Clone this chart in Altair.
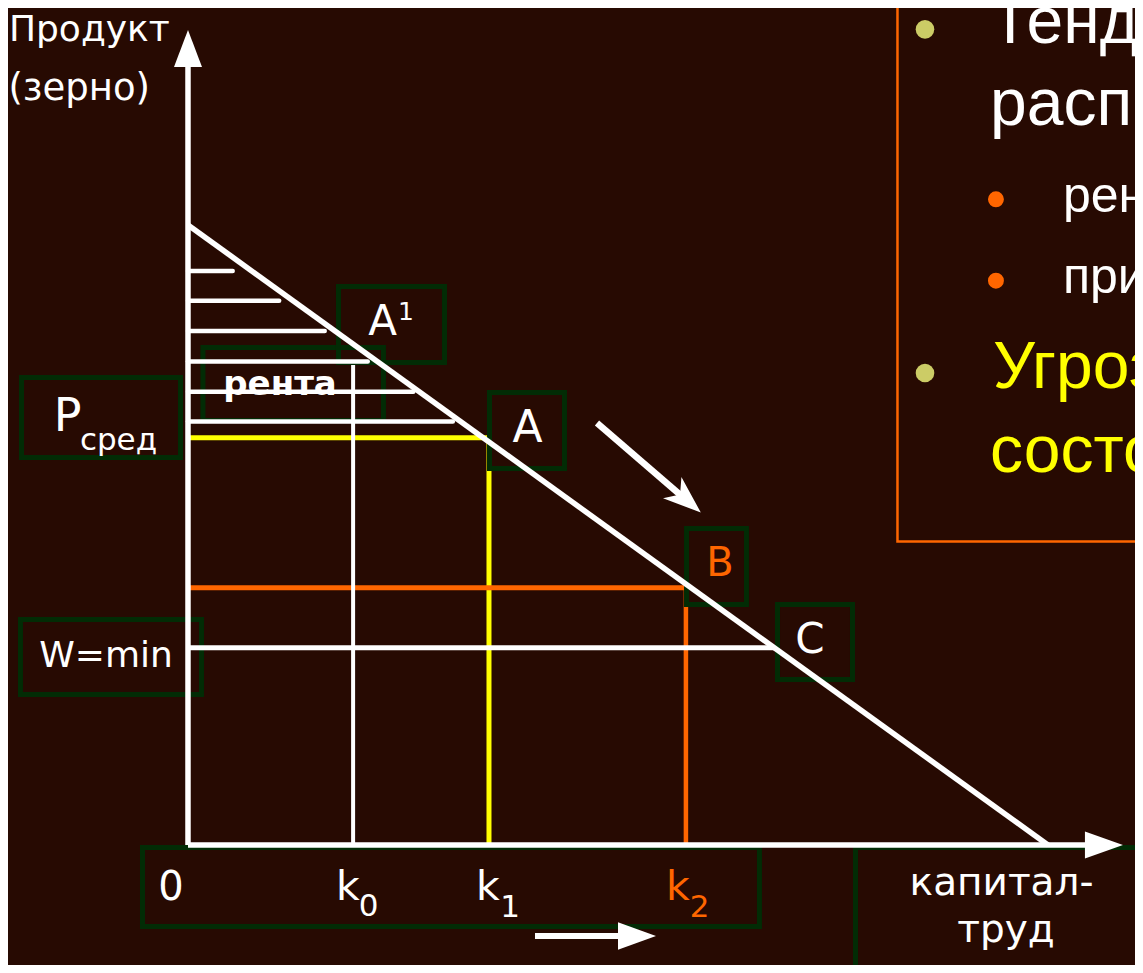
import altair as alt
import pandas as pd

# ---------------- colours ----------------
BG = "#270a02"
GREEN = "#022c05"
ORANGE = "#ff6600"
YELLOW = "#ffff00"
WHITE = "#ffffff"
OLIVE = "#cccc66"

# ---------------- model values (diagram units) ----------------
# product line: from (0, 10) down to (10, 0)
prod_x = [0.0, 10.0]
prod_y = [10.0, 0.0]

k0, k1, k2, kC = 1.92, 3.50, 5.79, 6.83
p_avg, p_b, w_min = 6.57, 4.15, 3.18
k0_top = 7.74
yellow_end = 3.48
orange_end = 5.77

# shaded "rent" area: hatch levels and their right ends
hatch_y = [9.26, 8.78, 8.29, 7.80, 7.31, 6.83]
hatch_x_end = [0.52, 1.06, 1.59, 2.09, 2.62, 3.08]

# axes
y_axis_top = 12.60
x_axis_right = 10.50

# view domain
W, H = 1127, 957
X_DOM = [-2.093, 11.012]
Y_DOM = [-1.9355, 13.5]

xs = alt.Scale(domain=X_DOM, nice=False, zero=False)
ys = alt.Scale(domain=Y_DOM, nice=False, zero=False)
X = alt.X("x:Q", scale=xs, axis=None)
Y = alt.Y("y:Q", scale=ys, axis=None)
X2 = alt.X2("x2:Q")
Y2 = alt.Y2("y2:Q")


def rules(df, cap="butt"):
    return alt.Chart(pd.DataFrame(df)).mark_rule(clip=True, strokeCap=cap).encode(
        x=X, y=Y, x2=X2, y2=Y2,
        color=alt.Color("c:N", scale=None),
        strokeWidth=alt.StrokeWidth("w:Q", scale=None),
    )


def boxes(df, fill, stroke, sw):
    m = alt.Chart(pd.DataFrame(df)).mark_rect(
        clip=True, stroke=stroke, strokeWidth=sw,
        fill=fill if fill else BG, fillOpacity=1 if fill else 0,
    )
    return m.encode(x=X, y=Y, x2=X2, y2=Y2)


# ---------------- boxes ----------------
back_box_x = [-1.936, -1.948, -0.529, 7.762, 0.174, 1.750]
back_box_x2 = [-0.087, 0.157, 6.645, 11.42, 2.273, 2.983]
back_box_y = [7.540, 3.637, -0.040, -0.040, 8.024, 9.008]
back_box_y2 = [6.250, 2.427, -1.315, -1.976, 6.847, 7.782]

front_box_x = [3.506, 5.797, 6.855]
front_box_x2 = [4.378, 6.494, 7.727]
front_box_y = [7.298, 5.105, 3.879]
front_box_y2 = [6.073, 3.879, 2.669]

panel_x, panel_x2 = [8.250], [11.42]
panel_y, panel_y2 = [13.79], [4.895]

back_boxes = boxes(dict(x=back_box_x, x2=back_box_x2, y=back_box_y, y2=back_box_y2), None, GREEN, 5)
front_boxes = boxes(dict(x=front_box_x, x2=front_box_x2, y=front_box_y, y2=front_box_y2), BG, GREEN, 5)
panel = boxes(dict(x=panel_x, x2=panel_x2, y=panel_y, y2=panel_y2), None, ORANGE, 2.5)

# ---------------- guide lines ----------------
guides = rules(dict(
    x=[0, k1, 0, k2, 0, k0],
    x2=[yellow_end, k1, orange_end, k2, kC, k0],
    y=[p_avg, p_avg, p_b, p_b, w_min, k0_top],
    y2=[p_avg, 0, p_b, 0, w_min, 0],
    c=[YELLOW, YELLOW, ORANGE, ORANGE, WHITE, WHITE],
    w=[5, 5, 5, 4.5, 5, 4],
))

hatch = rules(dict(
    x=[0] * len(hatch_y), x2=hatch_x_end, y=hatch_y, y2=hatch_y,
    c=[WHITE] * len(hatch_y), w=[4.5] * len(hatch_y),
), cap="round")

# axes, product line and arrow shafts
arrow_mid = dict(x=4.756, y=6.806, x2=5.767, y2=5.597)
arrow_bot = dict(x=4.035, y=-1.468, x2=5.023, y2=-1.468)
main_lines = rules(dict(
    x=[0, 0, prod_x[0], arrow_mid["x"], arrow_bot["x"]],
    x2=[0, x_axis_right, prod_x[1], arrow_mid["x2"], arrow_bot["x2"]],
    y=[0, 0, prod_y[0], arrow_mid["y"], arrow_bot["y"]],
    y2=[y_axis_top, 0, prod_y[1], arrow_mid["y2"], arrow_bot["y2"]],
    c=[WHITE] * 5,
    w=[5.5, 5.5, 5.5, 6.5, 6],
))


def head(x, y, shape, size, angle=0):
    return alt.Chart(pd.DataFrame(dict(x=[x], y=[y]))).mark_point(
        clip=True, filled=True, color=WHITE, opacity=1, strokeWidth=0,
        shape=shape, size=size, angle=angle,
    ).encode(x=X, y=Y)


heads = [
    head(0, 12.847, "M0,-1L0.757,1L-0.757,1Z", 1369),
    head(10.651, 0, "M1,0L-1,-0.71L-1,0.71Z", 1444),
    head(5.797, 5.563, "M1,0L-1,-0.74L-0.45,0L-1,0.74Z", 1436, 41),
    head(5.221, -1.468, "M1,0L-1,-0.72L-1,0.72Z", 1444),
]

# ---------------- bullets ----------------
bullet_x = [8.570, 8.570, 9.395, 9.395]
bullet_y = [13.156, 7.613, 10.415, 9.102]
bullet_c = [OLIVE, OLIVE, ORANGE, ORANGE]
bullet_s = [346, 346, 254, 254]
bullets = alt.Chart(pd.DataFrame(dict(x=bullet_x, y=bullet_y, c=bullet_c, s=bullet_s))).mark_circle(
    clip=True, opacity=1
).encode(x=X, y=Y, color=alt.Color("c:N", scale=None), size=alt.Size("s:Q", scale=None))


# ---------------- texts ----------------
def texts(df, font, align="center", weight="normal", clip=True):
    return alt.Chart(pd.DataFrame(df)).mark_text(
        clip=clip, font=font, align=align, baseline="alphabetic", fontWeight=weight,
    ).encode(
        x=X, y=Y, text="t:N",
        color=alt.Color("c:N", scale=None),
        size=alt.Size("s:Q", scale=None),
    )


left_labels = texts(dict(
    t=["Продукт", "(зерно)"],
    x=[-2.082, -2.088], y=[12.970, 12.016],
    c=[WHITE, WHITE], s=[36, 37],
), "DejaVu Sans", align="left", clip=False)

diagram_labels = texts(dict(
    t=["P", "сред", "W=min", "A", "1", "A", "B", "C",
       "0", "k", "0", "k", "1", "k", "2", "капитал-", "труд"],
    x=[-1.401, -0.808, -0.953, 2.262, 2.535, 3.948, 6.186, 7.233,
       -0.198, 1.860, 2.100, 3.488, 3.745, 5.697, 5.950, 9.460, 9.512],
    y=[6.682, 6.371, 2.871, 8.226, 8.468, 6.505, 4.339, 3.092,
       -0.887, -0.887, -1.145, -0.887, -1.161, -0.887, -1.161, -0.806, -1.565],
    c=[WHITE, WHITE, WHITE, WHITE, WHITE, WHITE, ORANGE, WHITE,
       WHITE, WHITE, WHITE, WHITE, WHITE, ORANGE, ORANGE, WHITE, WHITE],
    s=[46, 31, 36, 42, 25, 44, 40, 42,
       40, 41, 31, 41, 31, 41, 31, 39, 39],
), "DejaVu Sans")

rent_label = texts(dict(t=["рента"], x=[1.070], y=[7.258], c=[WHITE], s=[34]),
                   "DejaVu Sans", weight="bold")

panel_text = texts(dict(
    t=["Тенденции", "распределения", "рента растёт", "прибыль падает",
       "Угроза стационарного", "состояния"],
    x=[9.326, 9.326, 10.174, 10.174, 9.360, 9.326],
    y=[12.935, 11.613, 10.210, 8.903, 7.371, 6.016],
    c=[WHITE, WHITE, WHITE, WHITE, YELLOW, YELLOW],
    s=[66, 66, 50, 50, 66, 66],
), "Liberation Sans", align="left")

chart = alt.layer(
    back_boxes, panel, guides, hatch, front_boxes, main_lines, *heads, bullets,
    left_labels, diagram_labels, rent_label, panel_text,
).properties(
    width=W, height=H, padding=0,
    autosize=alt.AutoSizeParams(type="none"),
).configure(background=BG).configure_view(strokeWidth=0)

chart.save("out.html", embed_options={"renderer": "svg", "actions": False})
